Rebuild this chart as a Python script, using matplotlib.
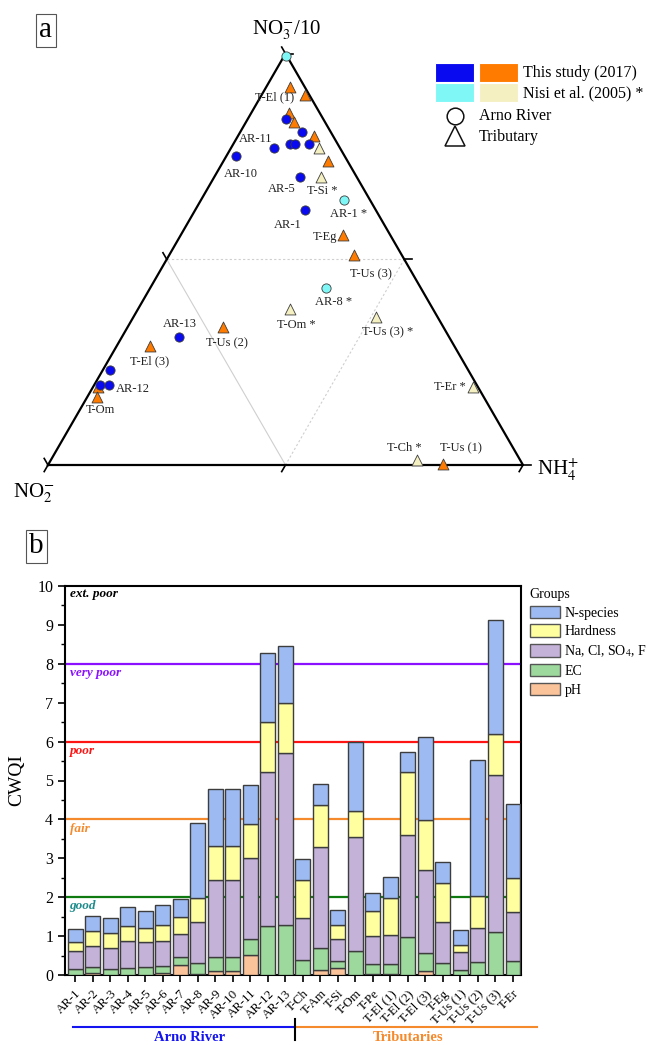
import numpy as np
import matplotlib

matplotlib.use("Agg")
import matplotlib.pyplot as plt
from matplotlib.patches import Rectangle, Patch
from matplotlib.lines import Line2D

plt.rcParams["font.family"] = ["Liberation Serif", "DejaVu Serif"]
plt.rcParams["mathtext.fontset"] = "stix"

# ---------------- panel a: ternary data (NO3-/10, NH4+, NO2- in %) ----------
AR_NO3 = [84, 81, 77, 78, 78, 78, 75, 70, 62, 31, 23, 19.5, 19.5]
AR_NH4 = [8, 13, 9, 12, 13, 16, 2, 18, 23, 12, 1.5, 1.2, 3]
AR_NO2 = [8, 6, 14, 10, 9, 6, 23, 12, 15, 57, 75.5, 79.3, 77.5]

TR_NO3 = [92, 90, 85.5, 83.5, 80, 74, 56, 51, 0.3, 29, 33.5, 19, 16.5]
TR_NH4 = [5, 9, 8, 10, 16, 22, 34, 39, 83, 7, 20, 1, 2]
TR_NO2 = [3, 1, 6.5, 6.5, 4, 4, 10, 10, 16.7, 64, 46.5, 80, 81.5]

NISI_AR_NO3 = [99.5, 64.5, 43]
NISI_AR_NH4 = [0.3, 30, 37]
NISI_AR_NO2 = [0.2, 5.5, 20]

NISI_TR_NO3 = [77, 70, 38, 36, 19, 1.2]
NISI_TR_NH4 = [18.5, 22.5, 32, 51, 80, 77]
NISI_TR_NO2 = [4.5, 7.5, 30, 13, 1, 21.8]

# point labels: (series, index, text)
POINT_LABELS = [
    ("tr", 1, "T-El (1)"), ("ar", 2, "AR-11"), ("ar", 6, "AR-10"),
    ("ar", 7, "AR-5"), ("ntr", 1, "T-Si *"), ("nar", 1, "AR-1 *"),
    ("ar", 8, "AR-1"), ("tr", 6, "T-Eg"), ("tr", 7, "T-Us (3)"),
    ("nar", 2, "AR-8 *"), ("ntr", 2, "T-Om *"), ("ntr", 3, "T-Us (3) *"),
    ("ntr", 4, "T-Er *"), ("ntr", 5, "T-Ch *"), ("tr", 8, "T-Us (1)"),
    ("ar", 9, "AR-13"), ("tr", 10, "T-Us (2)"), ("tr", 9, "T-El (3)"),
    ("ar", 12, "AR-12"), ("tr", 12, "T-Om"),
]
# label offsets in pixels (layout only)
LABEL_OFFSETS = [
    (-30, -3), (-18, 9), (5, -18), (-18, -12), (1, -14), (5, -14),
    (-17, -15), (-18, -2), (17, -19), (8, -14), (6, -16), (12, -15),
    (-23, 0), (-12, 12), (18, 15), (1, 13), (4, -16), (-1, -16),
    (24, -4), (4, -13),
]

# ---------------- panel b: CWQI stacked bars ----------------
SITES = ["AR-1", "AR-2", "AR-3", "AR-4", "AR-5", "AR-6", "AR-7", "AR-8",
         "AR-9", "AR-10", "AR-11", "AR-12", "AR-13", "T-Ch", "T-Am", "T-Si",
         "T-Om", "T-Pe", "T-El (1)", "T-El (2)", "T-El (3)", "T-Eg",
         "T-Us (1)", "T-Us (2)", "T-Us (3)", "T-Er"]
PH = [0.0, 0.06, 0.0, 0.0, 0.0, 0.04, 0.26, 0.03, 0.09, 0.09, 0.51, 0.0,
      0.0, 0.0, 0.13, 0.17, 0.0, 0.03, 0.02, 0.0, 0.10, 0.0, 0.0, 0.0, 0.0,
      0.0]
EC = [0.15, 0.14, 0.15, 0.19, 0.21, 0.20, 0.19, 0.29, 0.37, 0.37, 0.41,
      1.26, 1.29, 0.39, 0.56, 0.18, 0.62, 0.24, 0.26, 0.97, 0.46, 0.32,
      0.13, 0.33, 1.11, 0.36]
NACL = [0.47, 0.55, 0.55, 0.68, 0.63, 0.63, 0.60, 1.05, 1.98, 1.98, 2.10,
        3.95, 4.41, 1.08, 2.61, 0.57, 2.94, 0.72, 0.75, 2.63, 2.13, 1.03,
        0.45, 0.87, 4.03, 1.27]
HARD = [0.22, 0.39, 0.37, 0.39, 0.38, 0.41, 0.43, 0.62, 0.88, 0.88, 0.85,
        1.30, 1.28, 0.97, 1.06, 0.36, 0.66, 0.66, 0.95, 1.61, 1.29, 1.02,
        0.19, 0.83, 1.06, 0.87]
NSP = [0.33, 0.38, 0.40, 0.50, 0.43, 0.52, 0.47, 1.93, 1.45, 1.45, 1.01,
       1.77, 1.49, 0.54, 0.54, 0.39, 1.78, 0.45, 0.53, 0.53, 2.15, 0.53,
       0.39, 3.50, 2.92, 1.90]

CLASS_LEVELS = [2, 4, 6, 8]
CLASS_NAMES = ["good", "fair", "poor", "very poor"]

W, H = 653, 1045


def px(x, y):
    """pixel (from top-left) -> figure fraction"""
    return x / W, 1 - y / H


def tern(no3, nh4, no2):
    a = np.asarray(no3, float)
    b = np.asarray(nh4, float)
    c = np.asarray(no2, float)
    s = a + b + c
    a, b = a / s, b / s
    return b + a / 2, a * np.sqrt(3) / 2


fig = plt.figure(figsize=(W / 100, H / 100), dpi=100)

# ============================ panel a ======================================
ax = fig.add_axes([0, 1 - 520 / H, 1, 520 / H])
ax.set_xlim(-48 / 475, 605 / 475)
ax.set_ylim(-55 / 475, 465 / 475)
ax.axis("off")

s3 = np.sqrt(3) / 2
tri_x = [0, 1, 0.5, 0]
tri_y = [0, 0, s3, 0]
ax.plot(tri_x, tri_y, color="black", lw=1.6, zorder=2)
# inner sub-triangle
ax.plot([0.25, 0.5], [s3 / 2, 0], color="#cfcfcf", lw=0.8, zorder=1)
ax.plot([0.25, 0.75], [s3 / 2, s3 / 2], color="#cfcfcf", lw=0.8,
        ls=(0, (2, 2)), zorder=1)
ax.plot([0.75, 0.5], [s3 / 2, 0], color="#cfcfcf", lw=0.8,
        ls=(0, (2, 2)), zorder=1)
# edge ticks
tl = 0.016
for t in (0, 0.5, 1):
    x0, y0 = t, 0
    ax.plot([x0, x0 - 0.5 * tl], [y0, y0 - s3 * tl], color="black", lw=1.2)
    x1, y1 = 1 - 0.5 * t, s3 * t
    ax.plot([x1, x1 + tl], [y1, y1], color="black", lw=1.2)
    x2, y2 = 0.5 * t, s3 * t
    ax.plot([x2, x2 - 0.5 * tl], [y2, y2 + s3 * tl], color="black", lw=1.2)

C_BLUE = "#0a0af0"
C_ORANGE = "#ff7b00"
C_CYAN = "#7ff7f7"
C_BEIGE = "#f5f0c2"
EDGE = "#3c3c3c"

series = {
    "nar": (tern(NISI_AR_NO3, NISI_AR_NH4, NISI_AR_NO2), C_CYAN, "o", 44),
    "ntr": (tern(NISI_TR_NO3, NISI_TR_NH4, NISI_TR_NO2), C_BEIGE, "^", 62),
    "tr": (tern(TR_NO3, TR_NH4, TR_NO2), C_ORANGE, "^", 62),
    "ar": (tern(AR_NO3, AR_NH4, AR_NO2), C_BLUE, "o", 44),
}
for z, (key, ((xs, ys), col, mk, sz)) in enumerate(series.items()):
    ax.scatter(xs, ys, s=sz, marker=mk, facecolor=col, edgecolor=EDGE,
               linewidth=0.6, zorder=3 + z)

for (key, idx, txt), (dx, dy) in zip(POINT_LABELS, LABEL_OFFSETS):
    (xs, ys), _, _, _ = series[key]
    ax.annotate(txt, xy=(xs[idx], ys[idx]), xytext=(dx, dy),
                textcoords="offset pixels", ha="center", va="center",
                fontsize=9, color="#222222", zorder=10)

fig.text(*px(287, 30), r"NO$_3^{-}$/10", ha="center", va="center",
         fontsize=15)
fig.text(*px(34, 493), r"NO$_2^{-}$", ha="center", va="center", fontsize=15)
fig.text(*px(558, 470), r"NH$_4^{+}$", ha="center", va="center", fontsize=15)

fig.text(*px(45.5, 30), "a", ha="center", va="center", fontsize=21,
         bbox=dict(boxstyle="square,pad=0.12", fc="white", ec="#555555",
                   lw=0.8))

# legend of panel a
for (x0, y0, col) in [(435, 63, C_BLUE), (479, 63, C_ORANGE),
                      (435, 83, C_CYAN), (479, 83, C_BEIGE)]:
    fx, fy = px(x0, y0 + 19)
    fig.patches.append(Rectangle((fx, fy), 39 / W, 19 / H, facecolor=col,
                                 edgecolor="white", lw=0.8,
                                 transform=fig.transFigure))
fig.text(*px(523, 73), "This study (2017)", ha="left", va="center",
         fontsize=11.5)
fig.text(*px(523, 93), "Nisi et al. (2005) *", ha="left", va="center",
         fontsize=11.5)
fig.lines.append(Line2D([455 / W], [1 - 116 / H], marker="o", markersize=12,
                        mfc="none", mec="#111111", mew=1.1,
                        transform=fig.transFigure))
fig.lines.append(Line2D([455 / W], [1 - 136 / H], marker="^", markersize=14,
                        mfc="none", mec="#111111", mew=1.1,
                        transform=fig.transFigure))
fig.text(*px(479, 116), "Arno River", ha="left", va="center", fontsize=11.5)
fig.text(*px(479, 137), "Tributary", ha="left", va="center", fontsize=11.5)

# ============================ panel b ======================================
bx = fig.add_axes([65 / W, 1 - 975 / H, 456 / W, 389 / H])
x = np.arange(len(SITES))
comps = [
    ("pH", PH, "#fbc39a"),
    ("EC", EC, "#9dd89c"),
    ("Na, Cl, SO$_4$, F", NACL, "#c4b2d9"),
    ("Hardness", HARD, "#ffffa0"),
    ("N-species", NSP, "#9dbbf2"),
]
bottom = np.zeros(len(SITES))
for name, vals, col in comps:
    vals = np.asarray(vals)
    bx.bar(x, vals, 0.85, bottom=bottom, color=col, edgecolor="#3d3d3d",
           linewidth=1.0, zorder=3)
    bottom += vals

line_cols = ["#0f7a0f", "#f58a2c", "#ff1414", "#8a10ff"]
text_cols = ["#1e8c8c", "#f58a2c", "#ff1414", "#8a10ff"]
for lvl, name, lc, tc in zip(CLASS_LEVELS, CLASS_NAMES, line_cols,
                             text_cols):
    bx.axhline(lvl, color=lc, lw=1.6, zorder=2)
    bx.text(0.01, lvl - 0.08, name, transform=bx.get_yaxis_transform(),
            ha="left", va="top", fontsize=9.5, fontweight="bold",
            style="italic", color=tc, zorder=4)
bx.text(0.01, 9.94, "ext. poor", transform=bx.get_yaxis_transform(),
        ha="left", va="top", fontsize=9.5, fontweight="bold", style="italic",
        color="black", zorder=4)

bx.set_xlim(-0.58, len(SITES) - 0.54)
bx.set_ylim(0, 10)
bx.set_yticks(np.arange(0, 11, 1))
bx.set_yticks(np.arange(0.5, 10, 1), minor=True)
bx.tick_params(axis="y", which="major", direction="out", length=5,
               width=1.2, labelsize=11.5)
bx.tick_params(axis="y", which="minor", direction="out", length=3, width=1)
bx.set_xticks(x)
bx.set_xticklabels(SITES, rotation=45, ha="right", rotation_mode="anchor",
                   fontsize=9.3)
bx.tick_params(axis="x", direction="out", length=5, width=1.2, pad=4)
for sp in bx.spines.values():
    sp.set_linewidth(1.5)
bx.set_ylabel("CWQI", fontsize=14)
bx.yaxis.set_label_coords(-0.088, 0.5)

handles = [Patch(facecolor=col, edgecolor="#555555", label=name)
           for name, _, col in comps[::-1]]
leg = bx.legend(handles=handles, title="Groups", loc="upper left",
                bbox_to_anchor=px(527, 585), bbox_transform=fig.transFigure,
                frameon=False, fontsize=10, title_fontsize=10,
                handlelength=2.2, handleheight=1.0, handletextpad=0.3,
                labelspacing=0.35, borderpad=0.2, borderaxespad=0)
leg._legend_box.align = "left"

# group brackets under the x axis
trans = bx.get_xaxis_transform()
bx.plot([-0.11, 12.56], [-0.134, -0.134], color="#1414f0", lw=1.5,
        transform=trans, clip_on=False)
bx.plot([12.56, 26.4], [-0.134, -0.134], color="#f58a2c", lw=1.5,
        transform=trans, clip_on=False)
bx.plot([12.56, 12.56], [-0.113, -0.167], color="black", lw=1.5,
        transform=trans, clip_on=False)
bx.text(6.56, -0.145, "Arno River", transform=trans, ha="center",
        va="top", fontsize=10.5, fontweight="bold", color="#1414f0")
bx.text(19.0, -0.145, "Tributaries", transform=trans, ha="center",
        va="top", fontsize=10.5, fontweight="bold", color="#f58a2c")

fig.text(*px(36.5, 546), "b", ha="center", va="center", fontsize=21,
         bbox=dict(boxstyle="square,pad=0.12", fc="white", ec="#555555",
                   lw=0.8))

fig.savefig("out.png", dpi=100, facecolor="white")
